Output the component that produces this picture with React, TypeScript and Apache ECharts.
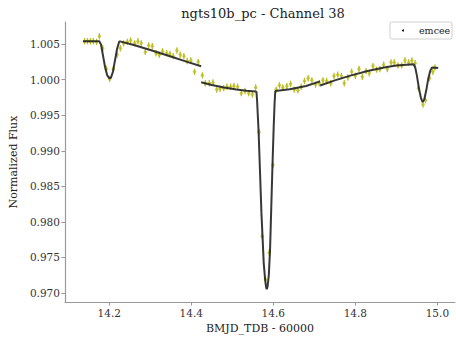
import React, { useEffect, useRef } from "react";
import * as echarts from "echarts";

const TITLE = "ngts10b_pc - Channel 38";
const X_LABEL = "BMJD_TDB - 60000";
const Y_LABEL = "Normalized Flux";
const LEGEND_LABEL = "emcee";

// observed data points
const obsTime = [
  14.140, 14.147, 14.154, 14.161, 14.169, 14.176, 14.184, 14.193, 14.201, 14.210,
  14.219, 14.227, 14.235, 14.244, 14.252, 14.262, 14.270, 14.278, 14.288, 14.296,
  14.305, 14.314, 14.322, 14.330, 14.340, 14.348, 14.356, 14.365, 14.373, 14.382,
  14.390, 14.399, 14.408, 14.417, 14.427, 14.434, 14.444, 14.453, 14.462, 14.470,
  14.479, 14.487, 14.496, 14.504, 14.513, 14.522, 14.531, 14.540, 14.549, 14.557,
  14.565, 14.573, 14.581, 14.590, 14.599, 14.607, 14.615, 14.623, 14.633, 14.642,
  14.651, 14.660, 14.668, 14.676, 14.685, 14.694, 14.703, 14.712, 14.721, 14.730,
  14.740, 14.748, 14.757, 14.766, 14.773, 14.782, 14.791, 14.800, 14.809, 14.817,
  14.826, 14.834, 14.843, 14.852, 14.860, 14.869, 14.878, 14.887, 14.895, 14.904,
  14.913, 14.921, 14.930, 14.938, 14.946, 14.954, 14.965, 14.971, 14.981, 14.989,
  14.994,
];
const obsFlux = [
  1.0054, 1.0054, 1.0054, 1.0054, 1.0053, 1.0061, 1.0044, 1.0015, 1.0001, 1.0015,
  1.0035, 1.0044, 1.0051, 1.0053, 1.0055, 1.0051, 1.0054, 1.0051, 1.0039, 1.0048,
  1.0047, 1.0037, 1.0035, 1.0040, 1.0037, 1.0036, 1.0033, 1.0041, 1.0035, 1.0033,
  1.0026, 1.0027, 1.0011, 1.0025, 1.0006, 0.9995, 0.9995, 0.9996, 0.9986, 0.9987,
  0.9988, 0.9990, 0.9990, 0.9991, 0.9990, 0.9981, 0.9984, 0.9981, 0.9979, 0.9989,
  0.9926, 0.9780, 0.9719, 0.9757, 0.9880, 0.9986, 0.9992, 0.9989, 0.9991, 0.9994,
  0.9986, 0.9985, 0.9990, 0.9998, 1.0002, 0.9999, 0.9993, 0.9995, 0.9999, 0.9998,
  0.9995, 1.0005, 1.0007, 1.0005, 0.9995, 1.0003, 1.0011, 1.0005, 1.0015, 1.0004,
  1.0012, 1.0009, 1.0019, 1.0014, 1.0015, 1.0021, 1.0015, 1.0024, 1.0024, 1.0020,
  1.0020, 1.0027, 1.0024, 1.0027, 1.0023, 0.9988, 0.9965, 0.9971, 1.0002, 1.0011,
  1.0017,
];
const obsErr = 0.00045;

// model curve, four detrended segments (null = break)
const modelTime = [
  14.136, 14.160, 14.176, 14.180, 14.185, 14.190, 14.195, 14.200, 14.204, 14.209,
  14.214, 14.219, 14.224, 14.226, 14.260, 14.306, 14.350, 14.390, 14.424,
  14.424,
  14.424, 14.450, 14.480, 14.510, 14.535, 14.557, 14.559, 14.5605, 14.562, 14.564,
  14.5675, 14.571, 14.574, 14.5766, 14.580, 14.5825, 14.584, 14.586, 14.589, 14.592,
  14.595, 14.598, 14.601, 14.603, 14.6045, 14.605, 14.640, 14.680, 14.714,
  14.714,
  14.714, 14.750, 14.790, 14.830, 14.870, 14.900, 14.942, 14.946, 14.950, 14.955,
  14.960, 14.964, 14.968, 14.973, 14.978, 14.983, 14.987, 15.002,
];
const modelFlux: (number | null)[] = [
  1.00540, 1.00540, 1.00538, 1.00490, 1.00330, 1.00170, 1.00060, 1.00020, 1.00025, 1.00110,
  1.00270, 1.00430, 1.00530, 1.00538, 1.00487, 1.00406, 1.00325, 1.00250, 1.00187,
  null,
  0.99964, 0.99925, 0.99890, 0.99862, 0.99843, 0.99832, 0.99825, 0.99700, 0.99520, 0.99290,
  0.98720, 0.98130, 0.97760, 0.97424, 0.97190, 0.97080, 0.97055, 0.97090, 0.97250, 0.97600,
  0.98200, 0.98800, 0.99350, 0.99650, 0.99810, 0.99840, 0.99865, 0.99910, 0.99975,
  null,
  0.99918, 0.99990, 1.00060, 1.00120, 1.00170, 1.00198, 1.00215, 1.00170, 1.00060, 0.99880,
  0.99740, 0.99685, 0.99720, 0.99850, 1.00020, 1.00130, 1.00172, 1.00165,
];

const X_MIN = 14.092;
const X_MAX = 15.043;
const Y_MIN = 0.96874;
const Y_MAX = 1.0081;

const FONT = "'DejaVu Serif', serif";
const OLIVE = "#bcbd22";

export default function App() {
  const ref = useRef<HTMLDivElement>(null);
  useEffect(() => {
    if (!ref.current) return;
    const chart = echarts.init(ref.current, undefined, { renderer: "svg" });
    const pts = obsTime.map((t, i) => [t, obsFlux[i], obsErr]);
    const model = modelTime.map((t, i) => [t, modelFlux[i]]);
    chart.setOption({
      animation: false,
      backgroundColor: "#ffffff",
      title: {
        text: TITLE,
        left: 258,
        textAlign: "center",
        top: 2,
        textStyle: { fontFamily: FONT, fontSize: 13, fontWeight: "normal", color: "#222" },
      },
      grid: { left: 62, right: 1, top: 22, bottom: 38, containLabel: false },
      xAxis: {
        type: "value",
        min: X_MIN,
        max: X_MAX,
        splitNumber: 5,
        name: X_LABEL,
        nameLocation: "middle",
        nameGap: 19,
        nameTextStyle: { fontFamily: FONT, fontSize: 11, color: "#222" },
        axisLine: { show: true, lineStyle: { color: "#999", width: 1.2 } },
        axisTick: { show: true, length: 3.5, lineStyle: { color: "#999" } },
        axisLabel: {
          fontFamily: FONT, fontSize: 10.5, color: "#333", margin: 5,
          showMinLabel: false, showMaxLabel: false,
          formatter: (v: number) => v.toFixed(1),
        },
        splitLine: { show: false },
      },
      yAxis: {
        type: "value",
        min: Y_MIN,
        max: Y_MAX,
        splitNumber: 8,
        name: Y_LABEL,
        nameLocation: "middle",
        nameGap: 42,
        nameTextStyle: { fontFamily: FONT, fontSize: 11, color: "#222" },
        axisLine: { show: true, lineStyle: { color: "#999", width: 1.2 } },
        axisTick: { show: true, length: 3.5, lineStyle: { color: "#999" } },
        axisLabel: {
          fontFamily: FONT, fontSize: 10.5, color: "#333", margin: 5,
          showMinLabel: false, showMaxLabel: false,
          formatter: (v: number) => v.toFixed(3),
        },
        splitLine: { show: false },
      },
      series: [
        {
          type: "custom",
          name: "errors",
          data: pts,
          renderItem: (params: any, api: any) => {
            const x = api.value(0);
            const y = api.value(1);
            const e = api.value(2);
            const p1 = api.coord([x, y - e]);
            const p2 = api.coord([x, y + e]);
            return {
              type: "line",
              shape: { x1: p1[0], y1: p1[1], x2: p2[0], y2: p2[1] },
              style: { stroke: OLIVE, lineWidth: 1.2 },
            };
          },
          z: 2,
        },
        {
          type: "scatter",
          name: "data",
          data: pts.map((p) => [p[0], p[1]]),
          symbol: "diamond",
          symbolSize: [4, 5],
          itemStyle: { color: OLIVE },
          z: 3,
        },
        {
          type: "line",
          name: "model",
          data: model,
          showSymbol: false,
          connectNulls: false,
          lineStyle: { color: "#222", width: 2, opacity: 0.9 },
          z: 4,
        },
      ],
      graphic: [
        {
          type: "rect",
          shape: { x: 390, y: 22, width: 62, height: 17, r: 2 },
          style: { fill: "#fff", stroke: "#d0d0d0", lineWidth: 1 },
          z: 10,
        },
        {
          type: "circle",
          shape: { cx: 403, cy: 30.5, r: 1 },
          style: { fill: "#000" },
          z: 11,
        },
        {
          type: "text",
          x: 419,
          y: 30.5,
          style: {
            text: LEGEND_LABEL,
            fontFamily: FONT,
            fontSize: 9.5,
            fill: "#222",
            verticalAlign: "middle",
          },
          z: 11,
        },
      ],
    });
    return () => chart.dispose();
  }, []);
  return <div ref={ref} style={{ width: 456, height: 340, position: "absolute", left: 0, top: 0 }} />;
}
